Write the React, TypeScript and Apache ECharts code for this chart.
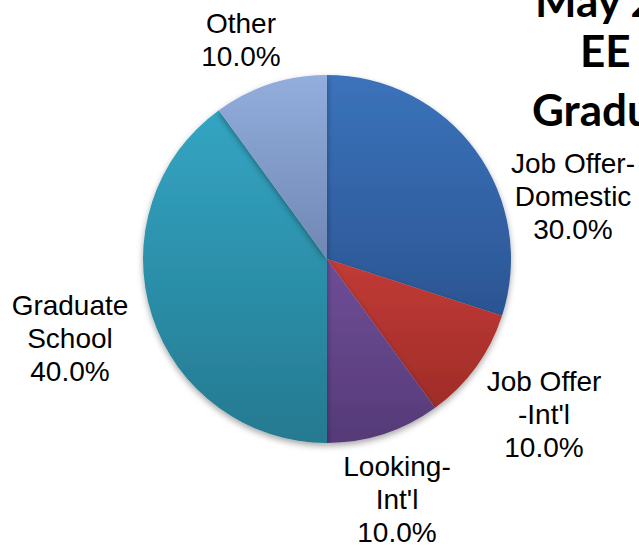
import React, { useEffect, useRef } from "react";
import * as echarts from "echarts";

// ---- data ----
const categories = ["Job Offer-Domestic", "Job Offer-Int'l", "Looking-Int'l", "Graduate School", "Other"];
const labelTexts = ["Job Offer-\nDomestic", "Job Offer\n-Int'l", "Looking-\nInt'l", "Graduate\nSchool", "Other"];
const values = [30, 10, 10, 40, 10];
const titleLines = ["May 2012", "EE", "Graduates"];

// ---- styles / layout ----
const topColors = ["#3b73bb", "#c23b36", "#6f4e98", "#33a5c3", "#93aedd"];
const bottomColors = ["#2b5593", "#9f2c28", "#553a77", "#257990", "#6f87b3"];
const CX = 327;
const CY = 259;
const R = 184;
// label block centers relative to pie center
const labelOffsets: [number, number][] = [
  [246, -63],
  [217, 155],
  [70, 240],
  [-257, 79],
  [-86, -219],
];
const titleLeft = [535, 580, 532];
const titleMidY = [0, 50, 109];

export default function App() {
  const ref = useRef<HTMLDivElement>(null);
  useEffect(() => {
    document.body.style.margin = "0";
    if (!ref.current) return;
    const chart = echarts.init(ref.current, null, { renderer: "svg" });
    const data = categories.map((name, i) => ({
      name,
      value: values[i],
      itemStyle: {
        color: new echarts.graphic.LinearGradient(0, 0, 0, 1, [
          { offset: 0, color: topColors[i] },
          { offset: 1, color: bottomColors[i] },
        ]),
      },
    }));
    chart.setOption({
      animation: false,
      backgroundColor: "#ffffff",
      graphic: titleLines.map((t, i) => ({
        type: "text",
        x: titleLeft[i],
        y: titleMidY[i],
        style: {
          text: t,
          fill: "#000000",
          font: "bold 44px Lato",
          align: "left",
          verticalAlign: "middle",
        },
      })),
      series: [
        {
          type: "pie",
          center: [CX, CY],
          radius: R,
          startAngle: 90,
          clockwise: true,
          avoidLabelOverlap: false,
          itemStyle: {
            shadowBlur: 6,
            shadowOffsetY: 3,
            shadowColor: "rgba(0,0,0,0.35)",
          },
          emphasis: { disabled: true },
          label: {
            show: true,
            position: "outside",
            fontFamily: "Liberation Sans, Arial",
            fontSize: 28,
            lineHeight: 33,
            color: "#000000",
            align: "center",
            formatter: (p: any) => `${labelTexts[p.dataIndex]}\n${p.percent.toFixed(1)}%`,
          },
          labelLine: { show: false },
          labelLayout: (p: any) => ({
            x: CX + labelOffsets[p.dataIndex][0],
            y: CY + labelOffsets[p.dataIndex][1],
            align: "center",
            verticalAlign: "middle",
          }),
          data,
        },
      ],
    });
    return () => chart.dispose();
  }, []);
  return <div ref={ref} style={{ width: 639, height: 546 }} />;
}
